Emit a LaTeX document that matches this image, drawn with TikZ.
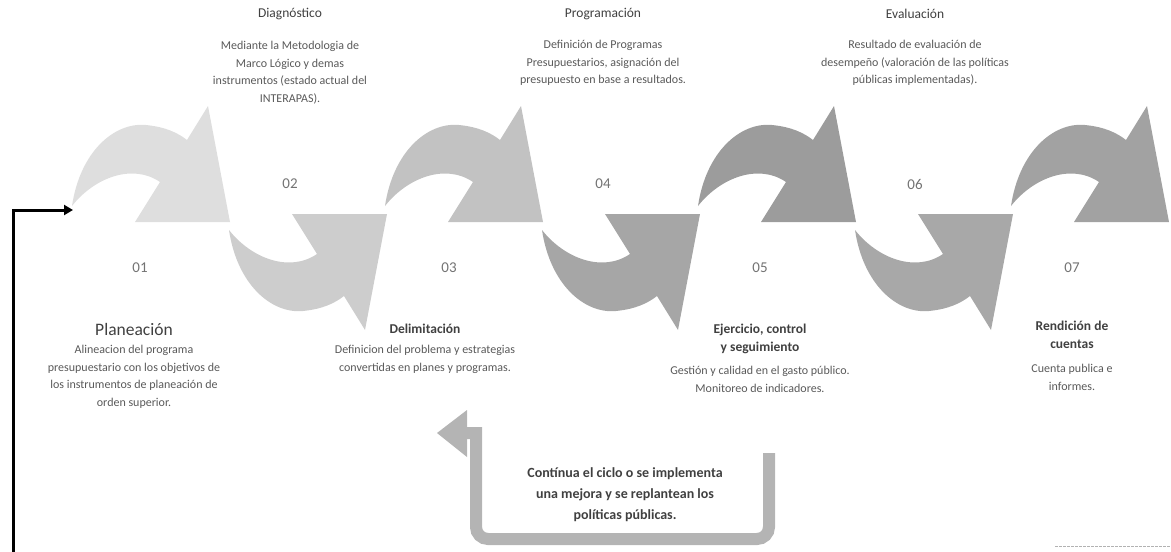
\documentclass[tikz,border=0pt]{standalone}
\usepackage{fontspec}
\setmainfont{Carlito}
\usetikzlibrary{arrows.meta}
\definecolor{txtgray}{HTML}{595959}
\definecolor{ttlgray}{HTML}{404040}
\definecolor{numgray}{HTML}{737373}
\definecolor{aone}{HTML}{DEDEDE}
\definecolor{atwo}{HTML}{CDCDCD}
\definecolor{athree}{HTML}{C2C2C2}
\definecolor{afour}{HTML}{A6A6A6}
\definecolor{afive}{HTML}{9C9C9C}
\definecolor{asix}{HTML}{A8A8A8}
\definecolor{aseven}{HTML}{A2A2A2}
\definecolor{fbgray}{HTML}{B4B4B4}
\tikzset{
  bodytxt/.style={font=\fontsize{12}{17.5}\selectfont, text=txtgray, align=center, inner sep=0pt},
  ttltxt/.style={font=\fontsize{13.5}{18}\selectfont, text=ttlgray, align=center, inner sep=0pt},
  ttlbold/.style={font=\fontsize{13.5}{18}\selectfont\bfseries, text=ttlgray, align=center, inner sep=0pt},
  bigttl/.style={font=\fontsize{17.5}{20}\selectfont, text=ttlgray, inner sep=0pt},
  numtxt/.style={font=\fontsize{15}{16}\selectfont, text=numgray, inner sep=0pt},
  fbtxt/.style={font=\fontsize{14}{21}\selectfont\bfseries, text=ttlgray, align=center, inner sep=0pt},
}
\def\arrowshape{(0,206) .. controls (8,152) and (42,122) .. (74,125) .. controls (94,127) and (106,133) .. (115,140) -- (136,106) -- (158,222) -- (63,222) -- (88,182) .. controls (60,163) and (22,178) .. (0,206) -- cycle}
\newcommand{\uparrowshape}[2]{\begin{scope}[shift={(#1,0)}]\fill[#2] \arrowshape;\end{scope}}
\newcommand{\downarrowshape}[2]{\begin{scope}[shift={(#1,436)}, yscale=-1]\fill[#2] \arrowshape;\end{scope}}
\begin{document}
\begin{tikzpicture}[x=1pt,y=-1pt]
\useasboundingbox (0,0) rectangle (1171,552);
% curved arrows
\uparrowshape{72}{aone}
\downarrowshape{229}{atwo}
\uparrowshape{385}{athree}
\downarrowshape{542}{afour}
\uparrowshape{698}{afive}
\downarrowshape{855}{asix}
\uparrowshape{1011}{aseven}
% numbers
\node[numtxt] (n1) at (140,268) {01};
\node[numtxt] (n2) at (290,184) {02};
\node[numtxt] (n3) at (449,268) {03};
\node[numtxt] (n4) at (603,184) {04};
\node[numtxt] (n5) at (760,268) {05};
\node[numtxt] (n6) at (915,184) {06};
\node[numtxt] (n7) at (1072,268) {07};
% top texts
\node[ttltxt] (t2) at (290,14) {Diagnóstico};
\node[bodytxt, anchor=north] (b2) at (290,41) {Mediante la Metodologia de\\Marco Lógico y demas\\instrumentos (estado actual del\\INTERAPAS).};
\node[ttltxt] (t4) at (603,14) {Programación};
\node[bodytxt, anchor=north] (b4) at (603,40) {Definición de Programas\\Presupuestarios, asignación del\\presupuesto en base a resultados.};
\node[ttltxt] (t6) at (915,14) {Evaluación};
\node[bodytxt, anchor=north] (b6) at (915,40) {Resultado de evaluación de\\desempeño (valoración de las políticas\\públicas implementadas).};
% bottom texts
\node[bigttl] (t1) at (134,329) {Planeación};
\node[bodytxt, anchor=north] (b1) at (134,345) {Alineacion del programa\\presupuestario con los objetivos de\\los instrumentos de planeación de\\orden superior.};
\node[ttlbold] (t3) at (425,329) {Delimitación};
\node[bodytxt, anchor=north] (b3) at (425,345) {Definicion del problema y estrategias\\convertidas en planes y programas.};
\node[ttlbold, anchor=north] (t5) at (760,324) {Ejercicio, control\\y seguimiento};
\node[bodytxt, anchor=north] (b5) at (760,366) {Gestión y calidad en el gasto público.\\Monitoreo de indicadores.};
\node[ttlbold, anchor=north] (t7) at (1072,321) {Rendición de\\cuentas};
\node[bodytxt, anchor=north] (b7) at (1072,364) {Cuenta publica e\\informes.};
% feedback text
\node[fbtxt, anchor=north] (fb) at (625,467) {Contínua el ciclo o se implementa\\una mejora y se replantean los\\políticas públicas.};
% feedback U arrow
\coordinate (fbstart) at (769,453);
\coordinate (fbc1) at (769,539);
\coordinate (fbc2) at (476,539);
\coordinate (fbc3) at (476,433);
\coordinate (fbend) at (466,433);
\draw[fbgray, line width=12pt, line join=miter, rounded corners=12pt] (fbstart) -- (fbc1) -- (fbc2) [sharp corners] -- (fbc3) -- (fbend);
\fill[fbgray] (467,410) -- (437,433) -- (467,457) -- cycle;
% black start connector
\coordinate (cbot) at (13,552);
\coordinate (a1tail) at (73,210);
\draw[black, line width=3pt, -{Triangle[length=9pt,width=10pt]}] (cbot) |- (a1tail);
% faint line bottom right
\coordinate (fl1) at (1055,546);
\coordinate (fl2) at (1171,546);
\draw[gray!60, line width=1pt, dash pattern=on 3pt off 1pt] (fl1) -- (fl2);
\end{tikzpicture}
\end{document}
